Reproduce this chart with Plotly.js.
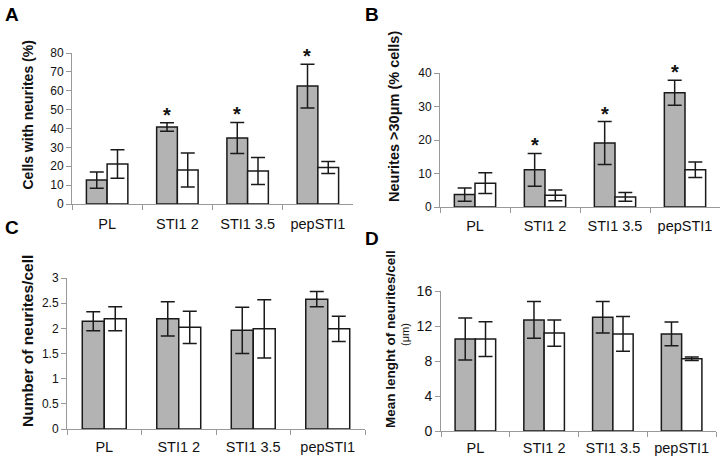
<!DOCTYPE html>
<html>
<head>
<meta charset="utf-8">
<script src="https://cdn.plot.ly/plotly-3.0.1.min.js"></script>
<style>
  body { margin: 0; background: #fff; }
  #chart { width: 720px; height: 456px; }
</style>
</head>
<body>
<div id="chart"></div>
<script>
// categories shared by all four panels
var categories = ['PL', 'STI1 2', 'STI1 3.5', 'pepSTI1'];

// A - cells with neurites (%)
var aGray = [12.7, 40.8, 35, 62.5];
var aGrayErr = [4.3, 2.2, 8.2, 11.6];
var aWhite = [21.2, 18, 17.5, 19.3];
var aWhiteErr = [7.5, 9, 7.2, 3.2];
var aStar = [false, true, true, true];

// B - neurites > 30 um (% cells)
var bGray = [3.7, 11.1, 19.1, 34.1];
var bGrayErr = [2, 4.9, 6.4, 3.7];
var bWhite = [7.1, 3.5, 3.0, 11.1];
var bWhiteErr = [3.1, 1.6, 1.3, 2.3];
var bStar = [false, true, true, true];

// C - number of neurites / cell
var cGray = [2.14, 2.19, 1.96, 2.58];
var cGrayErr = [0.19, 0.34, 0.46, 0.15];
var cWhite = [2.19, 2.02, 1.99, 1.99];
var cWhiteErr = [0.24, 0.32, 0.58, 0.25];

// D - mean length of neurites / cell (um)
var dGray = [10.5, 12.7, 13, 11.1];
var dGrayErr = [2.4, 2.1, 1.8, 1.35];
var dWhite = [10.5, 11.2, 11.1, 8.25];
var dWhiteErr = [2, 1.5, 2, 0.2];

var W = 720, H = 456;
var SANS = 'Liberation Sans, Arial';
function px(x) { return x / W; }
function py(y) { return 1 - y / H; }

function barTrace(vals, errs, color, ax) {
    return {
        type: 'bar',
        x: categories,
        y: vals,
        xaxis: 'x' + ax,
        yaxis: 'y' + ax,
        marker: { color: color, line: { color: '#1a1a1a', width: 1.5 } },
        error_y: { type: 'data', array: errs, visible: true, color: '#1a1a1a', thickness: 1.5, width: 7 },
        hoverinfo: 'none',
        showlegend: false
    };
}

var data = [
    barTrace(aGray, aGrayErr, '#b3b3b3', ''), barTrace(aWhite, aWhiteErr, '#ffffff', ''),
    barTrace(bGray, bGrayErr, '#b3b3b3', '2'), barTrace(bWhite, bWhiteErr, '#ffffff', '2'),
    barTrace(cGray, cGrayErr, '#b3b3b3', '3'), barTrace(cWhite, cWhiteErr, '#ffffff', '3'),
    barTrace(dGray, dGrayErr, '#b3b3b3', '4'), barTrace(dWhite, dWhiteErr, '#ffffff', '4')
];

function xAxis(x0, x1, standoff) {
    return {
        domain: [px(x0), px(x1)],
        type: 'category',
        showline: true, linecolor: '#999', linewidth: 1,
        ticks: 'outside', tickson: 'boundaries', ticklen: 5, tickcolor: '#999',
        tickangle: 0, ticklabelstandoff: standoff,
        tickfont: { family: SANS, size: 14.5, color: '#111' },
        showgrid: false, zeroline: false, fixedrange: true
    };
}

function yAxis(y0, y1, range, dtick, tsize) {
    return {
        domain: [py(y1), py(y0)],
        range: range, dtick: dtick,
        showline: true, linecolor: '#999', linewidth: 1,
        ticks: 'outside', ticklen: 5, tickcolor: '#999',
        tickfont: { family: SANS, size: tsize, color: '#111' },
        showgrid: false, zeroline: false, fixedrange: true
    };
}

var layout = {
    width: W, height: H,
    margin: { l: 0, r: 0, t: 0, b: 0 },
    paper_bgcolor: '#fff', plot_bgcolor: '#fff',
    barmode: 'group', bargap: 0.41, bargroupgap: 0,
    xaxis: Object.assign(xAxis(72, 353, 7), { anchor: 'y' }),
    yaxis: Object.assign(yAxis(53, 204, [0, 80], 10, 12), { anchor: 'x' }),
    xaxis2: Object.assign(xAxis(440, 720, 6), { anchor: 'y2' }),
    yaxis2: Object.assign(yAxis(73, 207, [0, 40], 10, 12), { anchor: 'x2' }),
    xaxis3: Object.assign(xAxis(67, 365, 5), { anchor: 'y3' }),
    yaxis3: Object.assign(yAxis(278, 429, [0, 3], 0.5, 12), { anchor: 'x3' }),
    xaxis4: Object.assign(xAxis(441, 716, 4), { anchor: 'y4' }),
    yaxis4: Object.assign(yAxis(291, 431, [0, 16], 4, 14), { anchor: 'x4' }),
    annotations: []
};

// panel letters
[['A', 3, 2], ['B', 363, 2], ['C', 3, 215], ['D', 363, 226]].forEach(function (p) {
    layout.annotations.push({
        text: '<b>' + p[0] + '</b>', xref: 'paper', yref: 'paper',
        x: px(p[1]), y: py(p[2]), xanchor: 'left', yanchor: 'top', showarrow: false,
        font: { family: SANS, size: 19, color: '#000' }
    });
});

// rotated y axis titles
[['Cells with neurites (%)', 27.5, 115, 14, true],
 ['Neurites &gt;30μm (% cells)', 394, 117, 14.5, true],
 ['Number of neurites/cell', 27, 341, 15.5, true],
 ['Mean lenght of neurites/cell', 390, 339, 13.5, true],
 ['(μm)', 405, 335, 11, false]].forEach(function (t) {
    layout.annotations.push({
        text: t[0], xref: 'paper', yref: 'paper',
        x: px(t[1]), y: py(t[2]), xanchor: 'center', yanchor: 'middle',
        textangle: -90, showarrow: false,
        font: { family: SANS, size: t[3], color: '#111', weight: t[4] ? 'bold' : 'normal' }
    });
});

// significance asterisks above the grey bars
function addStars(vals, errs, stars, ax) {
    for (var i = 0; i < categories.length; i++) {
        if (!stars[i]) continue;
        layout.annotations.push({
            text: '*', xref: 'x' + ax, yref: 'y' + ax,
            x: categories[i], y: vals[i] + errs[i],
            xshift: -10.5, yshift: -5, yanchor: 'bottom', showarrow: false,
            font: { family: SANS, size: 20, color: '#111', weight: 'bold' }
        });
    }
}
addStars(aGray, aGrayErr, aStar, '');
addStars(bGray, bGrayErr, bStar, '2');

Plotly.newPlot('chart', data, layout, { displayModeBar: false, staticPlot: true });
</script>
</body>
</html>
